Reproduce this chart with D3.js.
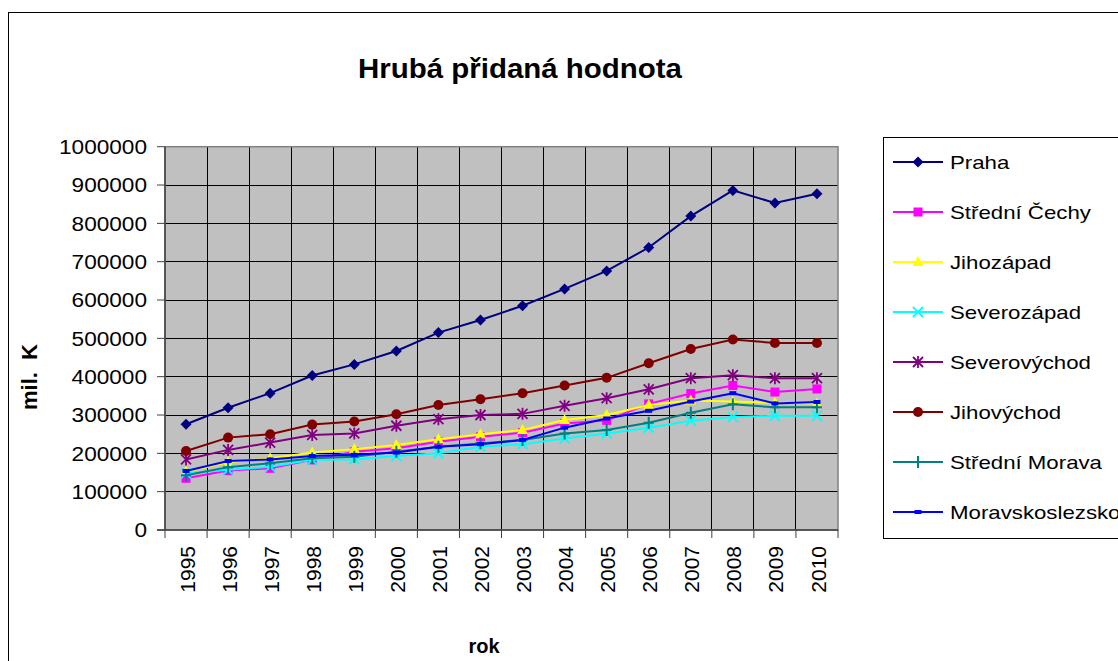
<!DOCTYPE html>
<html lang="cs">
<head>
    <meta charset="UTF-8">
    <title>Hrubá přidaná hodnota</title>
    <script src="https://d3js.org/d3.v7.min.js"></script>
    <style>
        body { margin: 0; background: #fff; }
        svg text { font-family: "Liberation Sans", Arial, sans-serif; fill: #000; }
    </style>
</head>
<body>
<div id="chart"></div>
<script>
    // data (mil. Kč)
    const years = ["1995", "1996", "1997", "1998", "1999", "2000", "2001", "2002",
                   "2003", "2004", "2005", "2006", "2007", "2008", "2009", "2010"];
    const yTicks = [0, 100000, 200000, 300000, 400000, 500000, 600000, 700000, 800000, 900000, 1000000];

    const praha = [276000, 319000, 357000, 403000, 432000, 467000, 515000, 548000, 585000, 629000, 676000, 737000, 819000, 886000, 853000, 877000];
    const stredniCechy = [135000, 155000, 161000, 183000, 204000, 213000, 230000, 243000, 254000, 278000, 286000, 329000, 356000, 377000, 360000, 368000];
    const jihozapad = [152000, 177000, 187000, 202000, 211000, 222000, 237000, 250000, 261000, 287000, 300000, 326000, 338000, 335000, 332000, 330000];
    const severozapad = [148000, 157000, 165000, 183000, 184000, 193000, 200000, 217000, 224000, 239000, 252000, 267000, 285000, 295000, 298000, 298000];
    const severovychod = [184000, 209000, 228000, 248000, 252000, 272000, 289000, 300000, 303000, 324000, 344000, 367000, 396000, 404000, 396000, 396000];
    const jihovychod = [206000, 241000, 250000, 275000, 283000, 302000, 326000, 341000, 357000, 377000, 397000, 435000, 472000, 497000, 488000, 488000];
    const stredniMorava = [143000, 164000, 174000, 187000, 191000, 204000, 217000, 226000, 235000, 252000, 261000, 280000, 306000, 328000, 320000, 320000];
    const moravskoslezsko = [154000, 180000, 184000, 193000, 196000, 202000, 217000, 224000, 235000, 267000, 291000, 311000, 335000, 357000, 330000, 334000];

    const series = [
        { name: "Praha", values: praha, color: "#000080", marker: "diamond" },
        { name: "Střední Čechy", values: stredniCechy, color: "#FF00FF", marker: "square" },
        { name: "Jihozápad", values: jihozapad, color: "#FFFF00", marker: "triangle" },
        { name: "Severozápad", values: severozapad, color: "#00FFFF", marker: "x" },
        { name: "Severovýchod", values: severovychod, color: "#800080", marker: "star" },
        { name: "Jihovýchod", values: jihovychod, color: "#800000", marker: "circle" },
        { name: "Střední Morava", values: stredniMorava, color: "#008080", marker: "plus" },
        { name: "Moravskoslezsko", values: moravskoslezsko, color: "#0000FF", marker: "dash" }
    ];

    const W = 1118, H = 661;
    const plot = { left: 165, right: 838, top: 146.7, bottom: 530 };

    const svg = d3.select("#chart").append("svg")
        .attr("width", W).attr("height", H);

    // stretch text a bit wider, like the original picture
    function stretch(sel, k) {
        sel.each(function () {
            const w = this.getComputedTextLength();
            d3.select(this).attr("textLength", w * k).attr("lengthAdjust", "spacingAndGlyphs");
        });
    }

    // chart area border
    svg.append("rect")
        .attr("x", 8.5).attr("y", 12.5).attr("width", 1200).attr("height", 700)
        .attr("fill", "none").attr("stroke", "#000").attr("stroke-width", 1);

    const x = d3.scaleBand().domain(years).range([plot.left, plot.right]);
    const y = d3.scaleLinear().domain([0, 1000000]).range([plot.bottom, plot.top]);

    // plot background
    svg.append("rect")
        .attr("x", plot.left).attr("y", plot.top)
        .attr("width", plot.right - plot.left).attr("height", plot.bottom - plot.top)
        .attr("fill", "#C0C0C0");

    // gridlines
    const bounds = years.map(d => x(d)).concat([plot.right]);
    svg.append("g").selectAll("line.vg")
        .data(bounds.slice(1, -1))
        .enter().append("line")
        .attr("x1", d => d).attr("x2", d => d)
        .attr("y1", plot.top).attr("y2", plot.bottom)
        .attr("stroke", "#000").attr("stroke-width", 1).attr("shape-rendering", "crispEdges");

    svg.append("g").selectAll("line.hg")
        .data(yTicks.slice(1))
        .enter().append("line")
        .attr("x1", plot.left).attr("x2", plot.right)
        .attr("y1", d => y(d)).attr("y2", d => y(d))
        .attr("stroke", "#000").attr("stroke-width", 1).attr("shape-rendering", "crispEdges");

    // plot border
    svg.append("rect")
        .attr("x", plot.left).attr("y", plot.top)
        .attr("width", plot.right - plot.left).attr("height", plot.bottom - plot.top)
        .attr("fill", "none").attr("stroke", "#808080").attr("stroke-width", 1.5);

    // axes
    svg.append("line")
        .attr("x1", plot.left).attr("x2", plot.left).attr("y1", plot.top).attr("y2", plot.bottom)
        .attr("stroke", "#404040").attr("stroke-width", 1.5);
    svg.append("line")
        .attr("x1", plot.left - 8).attr("x2", plot.right).attr("y1", plot.bottom).attr("y2", plot.bottom)
        .attr("stroke", "#404040").attr("stroke-width", 1.5);

    svg.append("g").selectAll("line")
        .data(yTicks)
        .enter().append("line")
        .attr("x1", plot.left - 8).attr("x2", plot.left)
        .attr("y1", d => y(d)).attr("y2", d => y(d))
        .attr("stroke", "#404040").attr("stroke-width", 1);

    svg.append("g").selectAll("line")
        .data(bounds)
        .enter().append("line")
        .attr("x1", d => d).attr("x2", d => d)
        .attr("y1", plot.bottom).attr("y2", plot.bottom + 8)
        .attr("stroke", "#404040").attr("stroke-width", 1);

    const yLabels = svg.append("g").selectAll("text")
        .data(yTicks)
        .enter().append("text")
        .attr("x", 147).attr("y", d => y(d))
        .attr("dy", "0.36em")
        .attr("text-anchor", "end")
        .style("font-size", "20px")
        .text(d => d);
    stretch(yLabels, 1.13);

    svg.append("g").selectAll("text")
        .data(years)
        .enter().append("text")
        .attr("transform", d => `translate(${x(d) + x.bandwidth() / 2 + 1},546) rotate(-90)`)
        .attr("dy", "0.36em")
        .attr("text-anchor", "end")
        .style("font-size", "21px")
        .text(d => d);

    // titles
    svg.append("text")
        .attr("x", 520).attr("y", 78)
        .attr("text-anchor", "middle")
        .style("font-size", "27px").style("font-weight", "bold")
        .attr("textLength", 324).attr("lengthAdjust", "spacingAndGlyphs")
        .text("Hrubá přidaná hodnota");

    svg.append("text")
        .attr("x", 484).attr("y", 653)
        .attr("text-anchor", "middle")
        .style("font-size", "20px").style("font-weight", "bold")
        .text("rok");

    svg.append("text")
        .attr("transform", "translate(29,377) rotate(-90)")
        .attr("dy", "0.36em")
        .attr("text-anchor", "middle")
        .style("font-size", "22px").style("font-weight", "bold")
        .style("white-space", "pre")
        .text("mil.  K");

    // markers
    function drawMarker(g, type, color) {
        if (type === "diamond") {
            g.append("path").attr("d", "M0,-5.5L5.5,0L0,5.5L-5.5,0Z").attr("fill", color);
        } else if (type === "square") {
            g.append("rect").attr("x", -4.5).attr("y", -4.5).attr("width", 9).attr("height", 9).attr("fill", color);
        } else if (type === "triangle") {
            g.append("path").attr("d", "M0,-6L5.5,4L-5.5,4Z").attr("fill", color);
        } else if (type === "circle") {
            g.append("circle").attr("r", 5).attr("fill", color);
        } else if (type === "x") {
            g.append("path").attr("d", "M-5,-5L5,5M-5,5L5,-5").attr("stroke", color).attr("stroke-width", 1.8).attr("fill", "none");
        } else if (type === "star") {
            g.append("path").attr("d", "M-5,-5L5,5M-5,5L5,-5M0,-6L0,6").attr("stroke", color).attr("stroke-width", 1.8).attr("fill", "none");
        } else if (type === "plus") {
            g.append("path").attr("d", "M-5,0L5,0M0,-6L0,6").attr("stroke", color).attr("stroke-width", 2).attr("fill", "none");
        } else if (type === "dash") {
            g.append("rect").attr("x", -3.5).attr("y", -2).attr("width", 7).attr("height", 4).attr("fill", color);
        }
    }

    const line = d3.line()
        .x((d, i) => x(years[i]) + x.bandwidth() / 2)
        .y(d => y(d));

    series.forEach(s => {
        const g = svg.append("g");
        g.append("path")
            .attr("d", line(s.values))
            .attr("fill", "none").attr("stroke", s.color).attr("stroke-width", 2);
        s.values.forEach((v, i) => {
            const m = g.append("g")
                .attr("transform", `translate(${x(years[i]) + x.bandwidth() / 2},${y(v)})`);
            drawMarker(m, s.marker, s.color);
        });
    });

    // legend
    const legend = svg.append("g");
    legend.append("rect")
        .attr("x", 883.5).attr("y", 137.5).attr("width", 300).attr("height", 401)
        .attr("fill", "#fff").attr("stroke", "#000").attr("stroke-width", 1);

    const legendY = d3.scalePoint().domain(series.map(s => s.name)).range([162, 512]);
    series.forEach(s => {
        const ly = legendY(s.name);
        legend.append("line")
            .attr("x1", 893).attr("x2", 943).attr("y1", ly).attr("y2", ly)
            .attr("stroke", s.color).attr("stroke-width", 2);
        drawMarker(legend.append("g").attr("transform", `translate(918,${ly})`), s.marker, s.color);
        const t = legend.append("text")
            .attr("x", 950).attr("y", ly)
            .attr("dy", "0.36em")
            .style("font-size", "19px")
            .text(s.name);
        stretch(t, 1.17);
    });
</script>
</body>
</html>
